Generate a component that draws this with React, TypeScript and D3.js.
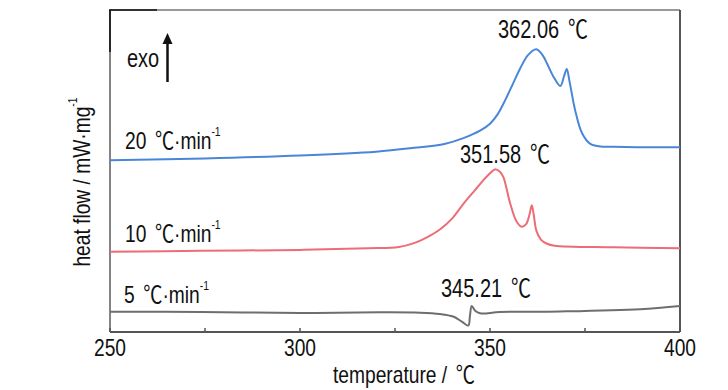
import React from "react";
import * as d3 from "d3";

// heating rates and their DSC traces: [temperature °C, heat flow (a.u.)]
const rates = ["20", "10", "5"];
const rate20: [number, number][] = [
  [250, 5.33], [275, 5.39], [300, 5.48], [320, 5.6], [330, 5.72], [338, 5.84],
  [343, 6.02], [347.5, 6.26], [350, 6.47], [352, 6.76], [354, 7.2], [356, 7.7],
  [358, 8.2], [360, 8.6], [362.2, 8.78], [364, 8.57], [365, 8.34], [366.7, 7.93],
  [368.5, 7.64], [369.5, 7.95], [370.2, 8.17], [370.9, 7.8], [372.4, 6.89],
  [374.2, 6.18], [376.4, 5.84], [379, 5.76], [382.4, 5.75], [390, 5.74], [400, 5.74],
];
const rate10: [number, number][] = [
  [250, 2.49], [274, 2.52], [300, 2.55], [318, 2.6], [326, 2.64], [330, 2.76],
  [334, 2.98], [337, 3.2], [340, 3.52], [343, 3.98], [346, 4.4], [348, 4.68],
  [350, 4.93], [351.3, 5.05], [352.6, 4.98], [353.5, 4.82],
  [355.3, 4.0], [357, 3.43], [358.3, 3.27], [359.5, 3.35], [360.4, 3.65],
  [361.0, 3.94], [361.5, 3.65], [362.2, 3.15], [363.4, 2.87], [365, 2.74],
  [367, 2.68], [382.4, 2.63], [400, 2.6],
];
const rate5: [number, number][] = [
  [250, 0.63], [274, 0.62], [300, 0.59], [321, 0.61], [331.6, 0.6], [336.8, 0.56],
  [340.3, 0.48], [342.6, 0.32], [344.3, 0.2], [344.7, 0.48], [345.2, 0.81],
  [346.1, 0.66], [347.4, 0.58], [352.6, 0.62], [368.4, 0.64], [389.5, 0.71], [400, 0.81],
];
const peaks = ["362.06", "351.58", "345.21"];
const xTicks = [250, 275, 300, 325, 350, 375, 400];
const xLabels = [250, 300, 350, 400];

const colors = ["#4a86d8", "#ec6d75", "#6e6e6e"];

const W = 728, H = 390;
const x = d3.scaleLinear().domain([250, 400]).range([110, 680]);
const y = d3.scaleLinear().domain([0, 10]).range([332, 10]);

const line = d3.line<[number, number]>()
  .x(d => x(d[0]))
  .y(d => y(d[1]))
  .curve(d3.curveCatmullRom.alpha(0.5));

const FONT = "'Liberation Sans', Arial, sans-serif";
const CJK = "'Noto Sans CJK SC', sans-serif";

function T(props: { x: number; y: number; size?: number; anchor?: string; rotate?: number; children: React.ReactNode }) {
  const s = props.size || 25;
  const rot = props.rotate ? ` rotate(${props.rotate})` : "";
  return (
    <g transform={`translate(${props.x},${props.y})${rot} scale(0.8,1)`}>
      <text fontFamily={FONT} fontSize={s} fill="#111" textAnchor={props.anchor || "start"}>
        {props.children}
      </text>
    </g>
  );
}

const Deg = () => <tspan fontFamily={CJK} dx={4}>℃</tspan>;

function Rate({ r, px, py }: { r: string; px: number; py: number }) {
  return (
    <T x={px} y={py} size={24}>
      {r} <Deg />·min<tspan fontSize={13} dy={-13}>-1</tspan>
    </T>
  );
}

export default function App() {
  const series = [rate20, rate10, rate5];
  const rateLabelPos = [[125, 149], [125, 242], [124, 303]];
  const peakPos = [[498, 38], [460, 163], [441, 297]];
  return (
    <svg width={W} height={H} style={{ position: "absolute", left: 0, top: 0 }}>
      <rect width={W} height={H} fill="#fff" />
      {/* frame */}
      <line x1={x(250)} x2={x(400)} y1={10} y2={10} stroke="#777" strokeWidth={1.5} />
      <line x1={x(400)} x2={x(400)} y1={10} y2={332} stroke="#444" strokeWidth={1.8} />
      <line x1={x(250)} x2={x(250)} y1={10} y2={332} stroke="#777" strokeWidth={1.8} />
      <line x1={x(250)} x2={x(400)} y1={332} y2={332} stroke="#555" strokeWidth={1.8} />
      <line x1={x(250) - 1} x2={157} y1={10} y2={10} stroke="#111" strokeWidth={1.6} />
      <line x1={x(250)} x2={x(250)} y1={10} y2={52} stroke="#111" strokeWidth={1.6} />
      {xTicks.map(t => (
        <line key={t} x1={x(t)} x2={x(t)} y1={332} y2={328} stroke="#555" strokeWidth={1.5} />
      ))}
      {xLabels.map(t => (
        <T key={t} x={x(t)} y={356} size={24} anchor="middle">{t}</T>
      ))}
      <T x={333} y={383} size={24}>temperature / <Deg /></T>
      <T x={90} y={182} size={24} anchor="middle" rotate={-90}>
        heat flow / mW·mg<tspan fontSize={13} dy={-13}>-1</tspan>
      </T>
      {series.map((d, i) => (
        <path key={i} d={line(d) || ""} fill="none" stroke={colors[i]} strokeWidth={2} />
      ))}
      {rates.map((r, i) => (
        <Rate key={r} r={r} px={rateLabelPos[i][0]} py={rateLabelPos[i][1]} />
      ))}
      {peaks.map((p, i) => (
        <T key={p} x={peakPos[i][0]} y={peakPos[i][1]} size={25}>{p} <Deg /></T>
      ))}
      <T x={127} y={67} size={25}>exo</T>
      <line x1={167.5} x2={167.5} y1={82} y2={42} stroke="#111" strokeWidth={2.5} />
      <path d="M167.5,33 L162.5,44 L172.5,44 Z" fill="#111" />
    </svg>
  );
}
